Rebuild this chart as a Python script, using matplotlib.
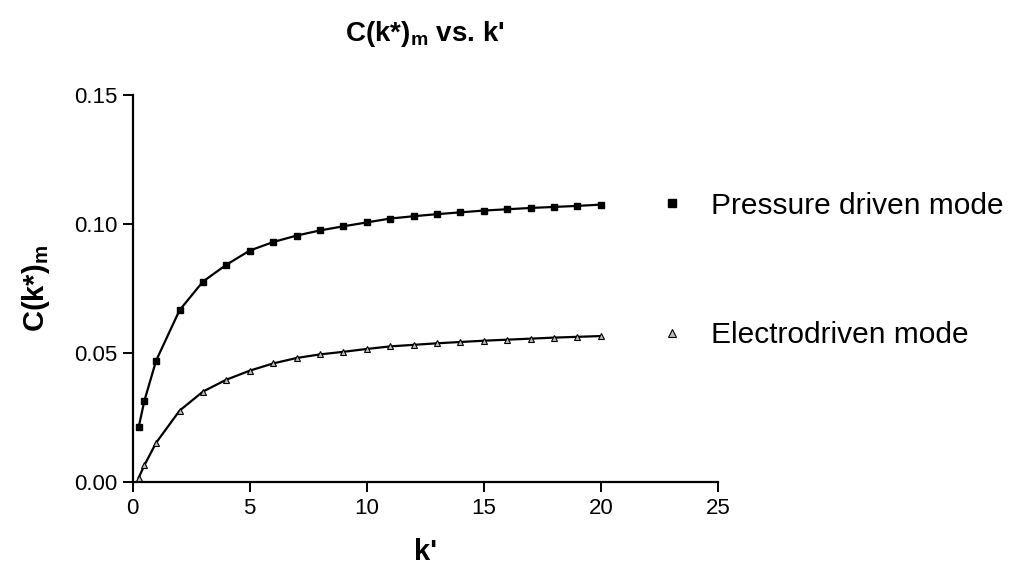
import numpy as np
import matplotlib
matplotlib.use("Agg")
import matplotlib.pyplot as plt

plt.rcParams['font.family'] = ['Liberation Sans', 'DejaVu Sans']
plt.rcParams['mathtext.default'] = 'regular'

# k' values where the model was evaluated
k_vals = [0.25, 0.5, 1, 2, 3, 4, 5, 6, 7, 8, 9, 10, 11, 12,
          13, 14, 15, 16, 17, 18, 19, 20]

# C(k*)_m, pressure driven mode
c_pressure = [0.0212, 0.0316, 0.0471, 0.0666, 0.0777, 0.0842, 0.0897, 0.0930,
              0.0955, 0.0975, 0.0991, 0.1006, 0.1021, 0.1030, 0.1038, 0.1045,
              0.1052, 0.1057, 0.1062, 0.1066, 0.1070, 0.1075]

# C(k*)_m, electrodriven mode
c_electro = [0.0017, 0.0066, 0.0153, 0.0277, 0.0351, 0.0397, 0.0432, 0.0460,
             0.0481, 0.0495, 0.0505, 0.0516, 0.0526, 0.0532, 0.0538, 0.0543,
             0.0548, 0.0552, 0.0556, 0.0560, 0.0563, 0.0566]

x_ticks = [0, 5, 10, 15, 20, 25]
y_ticks = [0.00, 0.05, 0.10, 0.15]

fig = plt.figure(figsize=(10.21, 5.68), dpi=100)
ax = fig.add_axes([0.130, 0.151, 0.573, 0.682])

ax.plot(k_vals, c_pressure, color='black', lw=1.6, zorder=2)
ax.plot(k_vals, c_electro, color='black', lw=1.6, zorder=2)
p_mark, = ax.plot(k_vals, c_pressure, ls='none', marker='s', ms=5,
                  color='black', label='Pressure driven mode', zorder=3)
e_mark, = ax.plot(k_vals, c_electro, ls='none', marker='^', ms=5,
                  mfc='#bbbbbb', mec='black', mew=0.8,
                  label='Electrodriven mode', zorder=3)

ax.set_xlim(0, 25)
ax.set_ylim(0, 0.15)
ax.set_xticks(x_ticks)
ax.set_yticks(y_ticks)
ax.set_yticklabels([f"{v:.2f}" for v in y_ticks])

for side in ['top', 'right']:
    ax.spines[side].set_visible(False)
for side in ['left', 'bottom']:
    ax.spines[side].set_linewidth(1.6)
ax.tick_params(direction='out', length=7, width=1.4, labelsize=16, pad=4)

ax.set_xlabel("k'", fontsize=21, fontweight='bold', labelpad=14)
ax.set_ylabel("C(k*)$_{m}$", fontsize=21, fontweight='bold', labelpad=16)
fig.text(0.416, 0.94, "C(k*)$_{m}$ vs. k'", fontsize=20, fontweight='bold',
         ha='center', va='center')

fig.legend(handles=[p_mark, e_mark], loc='upper left',
           bbox_to_anchor=(0.617, 0.71), frameon=False, fontsize=21.5,
           handlelength=1.0, handletextpad=0.8, labelspacing=3.4,
           markerscale=1.1)

fig.savefig('out.png', dpi=100)
